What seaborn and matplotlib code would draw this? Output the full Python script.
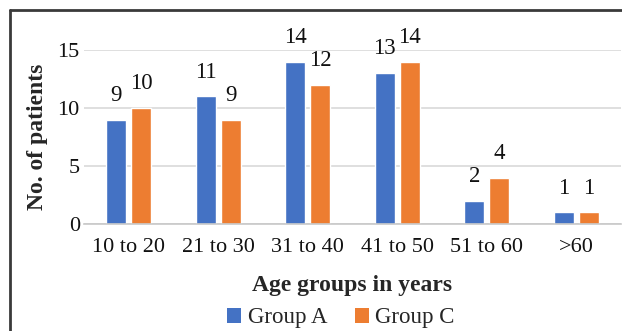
import matplotlib
matplotlib.use("Agg")
import matplotlib.pyplot as plt
import seaborn as sns
import pandas as pd
from matplotlib.patches import Patch
from matplotlib.lines import Line2D

# Patient counts per age band for the two study groups
age_groups = ["10 to 20", "21 to 30", "31 to 40", "41 to 50", "51 to 60", ">60"]
group_a = [9, 11, 14, 13, 2, 1]
group_c = [10, 9, 12, 14, 4, 1]
series_names = ["Group A", "Group C"]
y_ticks = [0, 5, 10, 15]

colors = ["#4472C4", "#ED7D31"]

df = pd.DataFrame({
    "Age group": age_groups * 2,
    "Patients": group_a + group_c,
    "Group": [series_names[0]] * len(age_groups) + [series_names[1]] * len(age_groups),
})

sns.set_theme(style="white")
plt.rcParams["font.family"] = ["Liberation Serif", "DejaVu Serif"]

W, H = 622, 331
fig = plt.figure(figsize=(W / 100, H / 100), dpi=100)
ax = fig.add_axes([84 / W, 1 - 224 / H, (621 - 84) / W, (224 - 50) / H])

sns.barplot(
    data=df, x="Age group", y="Patients", hue="Group",
    order=age_groups, hue_order=series_names, palette=colors,
    width=0.56, gap=0.2, saturation=1, legend=False, ax=ax,
)

ax.set_ylim(0, 15)
ax.set_yticks(y_ticks)
ax.yaxis.grid(True, color="#D9D9D9", linewidth=1.2)
ax.set_axisbelow(True)
for side in ("left", "top", "right"):
    ax.spines[side].set_visible(False)
ax.spines["bottom"].set_color("#C8C8C8")
ax.spines["bottom"].set_linewidth(1.2)
ax.tick_params(axis="both", length=0, labelsize=16, colors="#111111")
ax.tick_params(axis="y", pad=3)
ax.tick_params(axis="x", pad=10)

for container in ax.containers:
    ax.bar_label(container, padding=10, fontsize=16.5, color="#111111", clip_on=False)

ax.set_xlabel("Age groups in years", fontsize=17, fontweight="bold", labelpad=13)
ax.set_ylabel("No. of patients", fontsize=17, fontweight="bold", labelpad=7)

handles = [Patch(facecolor=c, edgecolor="none") for c in colors]
fig.legend(
    handles, series_names, loc="center", bbox_to_anchor=(341 / W, 1 - 318 / H),
    ncol=2, frameon=False, fontsize=16.5, handlelength=0.6, handleheight=0.6,
    handletextpad=0.3, columnspacing=1.2, borderpad=0,
)

# Outer chart frame (top and left edges)
fig.add_artist(Line2D([10 / W, 1.0], [1 - 10 / H, 1 - 10 / H], transform=fig.transFigure,
                      color="#3A3A3A", linewidth=2))
fig.add_artist(Line2D([10 / W, 10 / W], [0.0, 1 - 10 / H], transform=fig.transFigure,
                      color="#3A3A3A", linewidth=2))

fig.savefig("out.png", dpi=100)
